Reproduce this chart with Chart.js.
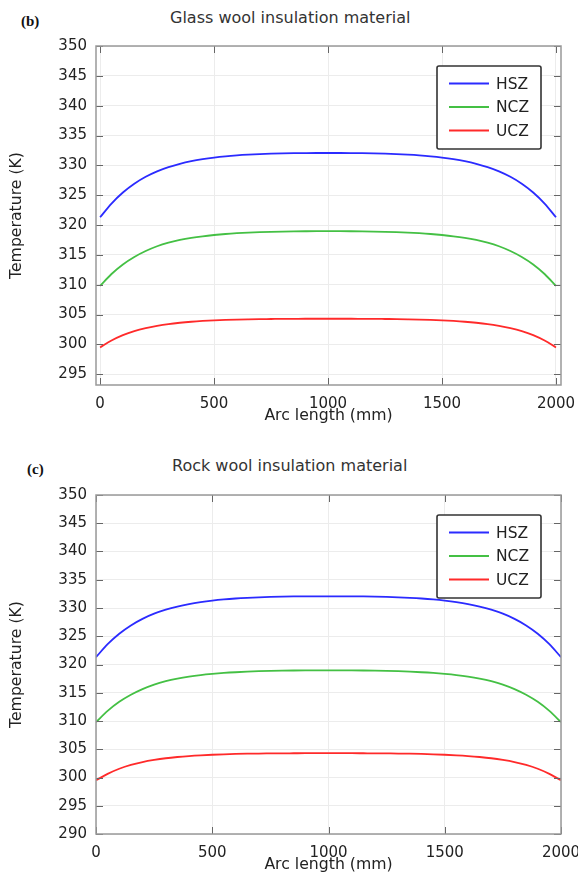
<!DOCTYPE html>
<html lang="en">
<head>
<meta charset="UTF-8">
<title>Temperature along arc length</title>
<script src="https://cdn.jsdelivr.net/npm/chart.js"></script>
<style>
  html, body { margin: 0; padding: 0; background: #fff; }
  body { width: 578px; height: 872px; position: relative; overflow: hidden; font-family: "DejaVu Sans", sans-serif; }
  .panel { position: absolute; left: 0; width: 578px; height: 425px; }
  .tag { position: absolute; font-family: "Liberation Serif", "DejaVu Serif", serif; font-weight: bold; font-size: 15px; color: #111; }
  .ttl { position: absolute; font-size: 16px; color: #333; white-space: nowrap; }
</style>
</head>
<body>
  <div class="tag" style="left:21px; top:13px;">(b)</div>
  <div class="ttl" style="left:170px; top:8px;">Glass wool insulation material</div>
  <div class="panel" style="top:0px;"><canvas id="glassChart" width="578" height="425"></canvas></div>

  <div class="tag" style="left:27px; top:461px;">(c)</div>
  <div class="ttl" style="left:172px; top:456px;">Rock wool insulation material</div>
  <div class="panel" style="top:449px;"><canvas id="rockChart" width="578" height="425"></canvas></div>

<script>
// arc length positions (mm), every 50 mm
const arcLength = [0, 50, 100, 150, 200, 250, 300, 350, 400, 450, 500, 550, 600, 650, 700, 750, 800, 850, 900, 950, 1000,
                   1050, 1100, 1150, 1200, 1250, 1300, 1350, 1400, 1450, 1500, 1550, 1600, 1650, 1700, 1750, 1800, 1850, 1900, 1950, 2000];

// temperatures (K)
const hszTemp = [321.3, 323.6, 325.45, 326.92, 328.08, 328.99, 329.7, 330.26, 330.7, 331.04, 331.31, 331.52, 331.68, 331.8, 331.89, 331.96, 332.01, 332.04, 332.06, 332.07, 332.07,
                 332.07, 332.06, 332.04, 332.01, 331.96, 331.89, 331.8, 331.68, 331.52, 331.31, 331.04, 330.7, 330.26, 329.7, 328.99, 328.08, 326.92, 325.45, 323.6, 321.3];
const nczTemp = [309.8, 311.8, 313.4, 314.65, 315.65, 316.45, 317.05, 317.5, 317.85, 318.12, 318.33, 318.5, 318.63, 318.73, 318.81, 318.87, 318.91, 318.94, 318.96, 318.97, 318.97,
                 318.97, 318.96, 318.94, 318.91, 318.87, 318.81, 318.73, 318.63, 318.5, 318.33, 318.12, 317.85, 317.5, 317.05, 316.45, 315.65, 314.65, 313.4, 311.8, 309.8];
const uczTemp = [299.5, 300.65, 301.55, 302.23, 302.73, 303.11, 303.41, 303.63, 303.8, 303.93, 304.03, 304.11, 304.17, 304.21, 304.24, 304.26, 304.28, 304.29, 304.3, 304.3, 304.3,
                 304.3, 304.3, 304.29, 304.28, 304.26, 304.24, 304.21, 304.17, 304.11, 304.03, 303.93, 303.8, 303.63, 303.41, 303.11, 302.73, 302.23, 301.55, 300.65, 299.5];

const seriesNames = ['HSZ', 'NCZ', 'UCZ'];
const seriesColors = ['#2b2bff', '#44c044', '#ff2a2a'];

const xTicks = [0, 500, 1000, 1500, 2000];

const FONT = '"DejaVu Sans", sans-serif';

// frame, inner tick marks and the boxed legend
const framePlugin = {
  id: 'frame',
  afterDatasetsDraw(chart) {
    const { ctx, chartArea: a, scales } = chart;
    ctx.save();
    ctx.strokeStyle = '#666';
    ctx.lineWidth = 1;
    const tl = 7;
    scales.y.ticks.forEach(t => {
      const y = Math.round(scales.y.getPixelForValue(t.value)) + 0.5;
      ctx.beginPath();
      ctx.moveTo(a.left, y); ctx.lineTo(a.left + tl, y);
      ctx.moveTo(a.right, y); ctx.lineTo(a.right - tl, y);
      ctx.stroke();
    });
    scales.x.ticks.forEach(t => {
      const x = Math.round(scales.x.getPixelForValue(t.value)) + 0.5;
      ctx.beginPath();
      ctx.moveTo(x, a.top); ctx.lineTo(x, a.top + tl);
      ctx.moveTo(x, a.bottom); ctx.lineTo(x, a.bottom - tl);
      ctx.stroke();
    });
    ctx.strokeStyle = '#999';
    ctx.lineWidth = 1.5;
    ctx.strokeRect(a.left, a.top, a.right - a.left, a.bottom - a.top);

    // legend box
    const lx = a.right - 124, ly = a.top + 20, lw = 104, lh = 83;
    ctx.fillStyle = '#fff';
    ctx.strokeStyle = '#333';
    ctx.lineWidth = 1.6;
    ctx.beginPath();
    ctx.roundRect(lx, ly, lw, lh, 2);
    ctx.fill();
    ctx.stroke();
    ctx.font = '15.5px ' + FONT;
    ctx.textBaseline = 'middle';
    ctx.lineWidth = 1.8;
    chart.data.datasets.forEach((ds, i) => {
      const yy = ly + 17.5 + i * 23.5;
      ctx.strokeStyle = ds.borderColor;
      ctx.beginPath();
      ctx.moveTo(lx + 12, yy); ctx.lineTo(lx + 52, yy);
      ctx.stroke();
      ctx.fillStyle = '#222';
      ctx.fillText(ds.label, lx + 59, yy + 1);
    });
    ctx.restore();
  }
};

function makeChart(id, xMin, xMax, yMin, yMax) {
  const datasets = [hszTemp, nczTemp, uczTemp].map((vals, i) => ({
    label: seriesNames[i],
    data: arcLength.map((x, k) => ({ x: x, y: vals[k] })),
    borderColor: seriesColors[i],
    borderWidth: 1.8,
    pointRadius: 0,
    cubicInterpolationMode: 'monotone',
    fill: false
  }));

  return new Chart(document.getElementById(id), {
    type: 'line',
    data: { datasets },
    options: {
      responsive: false,
      animation: false,
      layout: { padding: { top: 46, right: 17, left: 0, bottom: 0 }, autoPadding: false },
      plugins: { legend: { display: false }, tooltip: { enabled: false } },
      scales: {
        x: {
          type: 'linear',
          min: xMin, max: xMax,
          afterBuildTicks: s => { s.ticks = xTicks.map(v => ({ value: v })); },
          afterFit: s => { s.height = 40; s.paddingLeft = 0; s.paddingRight = 0; },
          grid: { color: '#ececec', drawTicks: false },
          border: { display: false },
          ticks: { color: '#222', font: { family: FONT, size: 15 }, padding: 10, maxRotation: 0,
                   callback: v => String(v) },
          title: { display: true, text: 'Arc length (mm)', color: '#222', font: { family: FONT, size: 15.7 }, padding: { top: 0, bottom: 0 } }
        },
        y: {
          min: yMin, max: yMax,
          ticks: { stepSize: 5, includeBounds: false, color: '#222', font: { family: FONT, size: 15 }, padding: 9,
                   callback: v => String(v) },
          afterFit: s => { s.width = 96; s.paddingTop = 0; s.paddingBottom = 0; },
          grid: { color: '#ececec', drawTicks: false },
          border: { display: false },
          title: { display: true, text: 'Temperature (K)', color: '#222', font: { family: FONT, size: 15.7 }, padding: { top: 8, bottom: 0 } }
        }
      }
    },
    plugins: [framePlugin]
  });
}

makeChart('glassChart', -18, 2022, 293.2, 350);
makeChart('rockChart', 0, 2000, 290, 350);
</script>
</body>
</html>
